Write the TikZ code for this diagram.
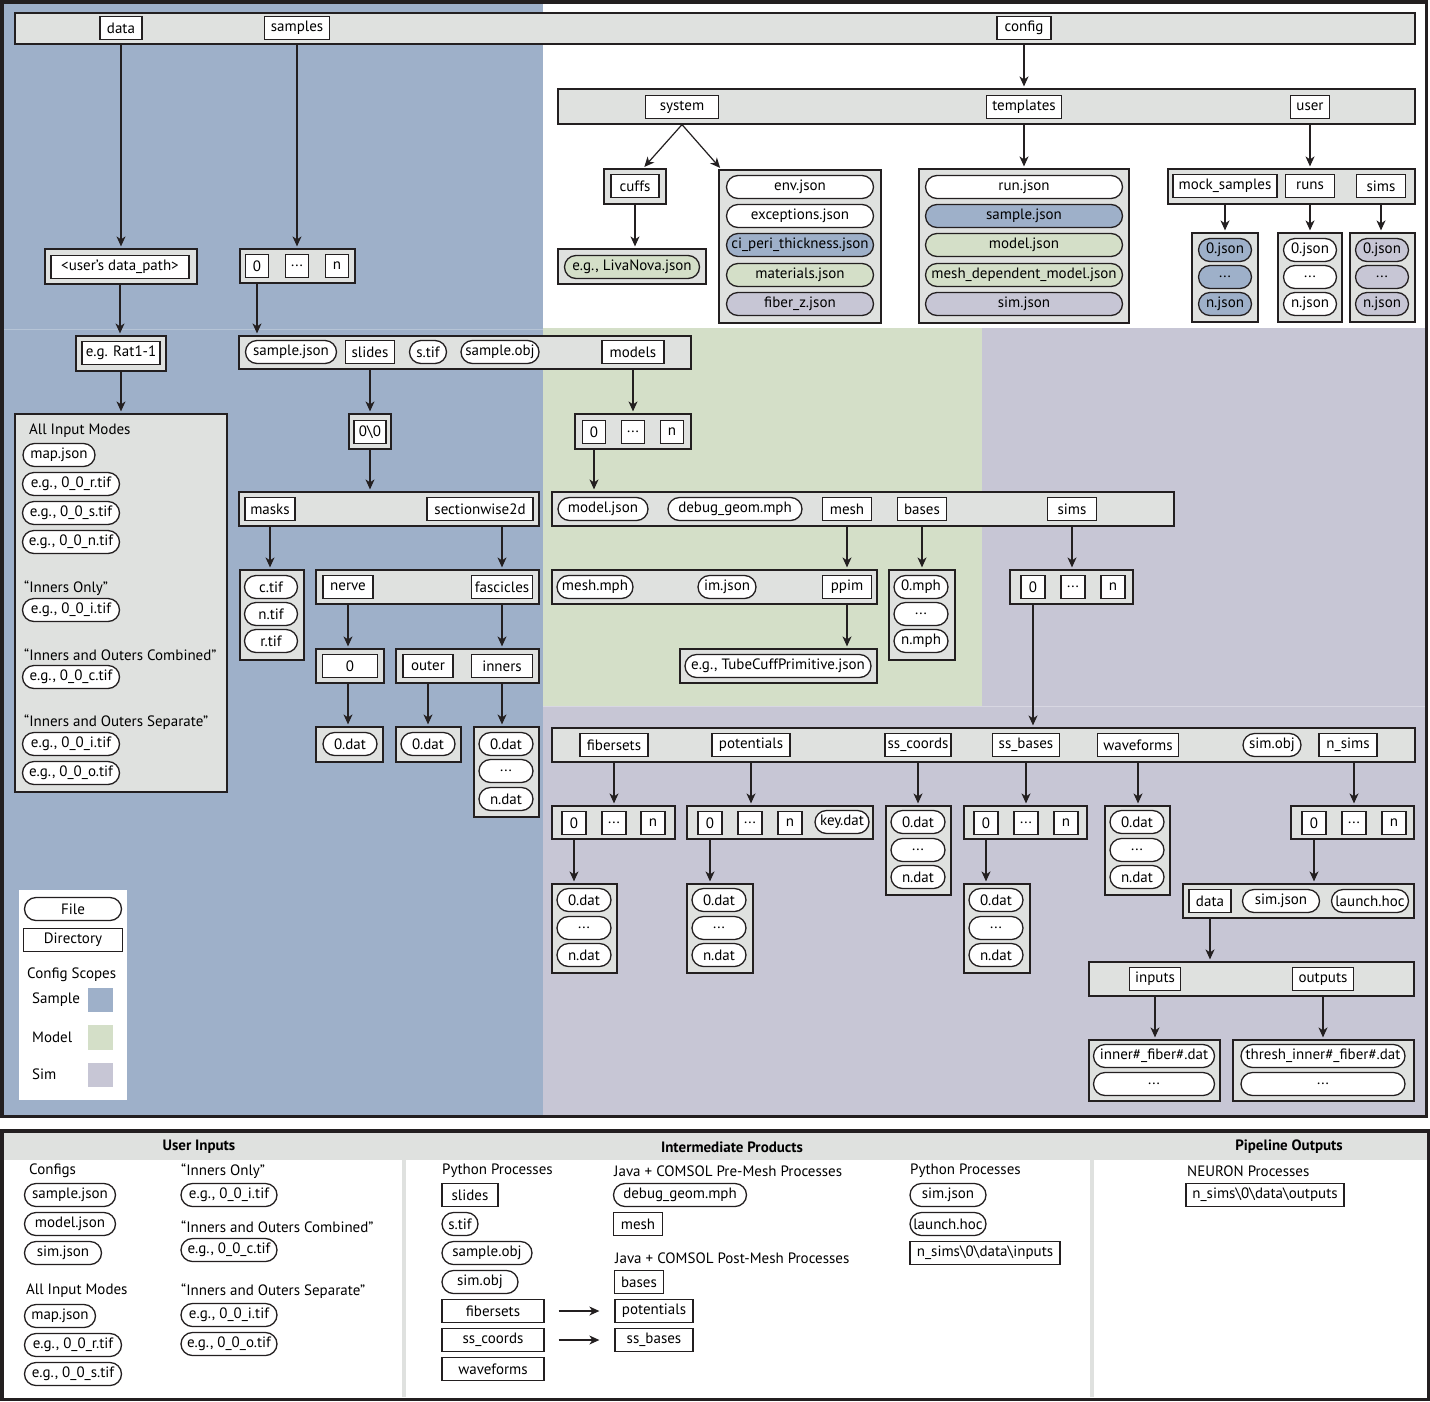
\documentclass[tikz,border=0pt]{standalone}
\usepackage{fontspec}
\setmainfont{PT Sans}
\usetikzlibrary{arrows.meta,shapes.misc,fit}
\definecolor{bluec}{HTML}{9EB0C9}
\definecolor{greenc}{HTML}{D4DFC8}
\definecolor{lavc}{HTML}{C7C6D5}
\definecolor{panelc}{HTML}{DFE1DF}
\definecolor{linec}{HTML}{231F20}
\newcommand\tx{\fontsize{15}{17}\selectfont}
\newcommand\Pp[5]{\node[panelbox, fit={(#2,#3) (#4,#5)}] (#1) {};}
\newcommand\Dd[5]{\node[dirb, minimum width=#4] (#1) at (#2,#3) {#5};}
\newcommand\Ff[6][white]{\node[fileb, fill=#1, minimum width=#5] (#2) at (#3,#4) {#6};}
\tikzset{
  panelbox/.style={draw=linec, fill=panelc, line width=1.2pt, inner sep=0pt, rectangle},
  dirb/.style={draw=linec, fill=white, line width=1.3pt, rectangle, inner sep=0pt, minimum height=23pt, font=\tx},
  fileb/.style={draw=linec, line width=1.3pt, rounded rectangle, inner sep=0pt, minimum height=23pt, font=\tx},
  arr/.style={-{Stealth[length=10pt,width=9pt,inset=3pt]}, line width=1.2pt, draw=linec, shorten >=2pt},
  lbl/.style={anchor=west, inner sep=0pt, font=\tx},
  hdr/.style={inner sep=0pt, font=\tx\bfseries},
}
\begin{document}
\begin{tikzpicture}[x=1pt,y=-1pt]
\useasboundingbox (0,0) rectangle (1430,1401);
\fill[white] (0,0) rectangle (1430,1401);
% ---------- scope backgrounds ----------
\fill[bluec] (3,3) rectangle (543,1116);
\fill[greenc] (543,328) rectangle (982,706);
\fill[lavc] (982,328) rectangle (1426,706);
\fill[lavc] (543,706) rectangle (1426,1116);
\draw[white!25!bluec, line width=0.6pt] (3,329) -- (543,329);
\draw[white!30!lavc, line width=0.6pt] (543,706) -- (1426,706);
\draw[linec, line width=3.5pt] (1.75,1.75) rectangle (1426.5,1116.5);
% ---------- top bar ----------
\Pp{topbar}{15}{13}{1415}{44}
\Dd{data}{121}{28}{42}{data}
\Dd{samples}{297}{28}{65}{samples}
\Dd{config}{1024}{28}{54}{config}
% ---------- config ----------
\Pp{cfgbar}{558}{89}{1415}{124}
\Dd{system}{682}{107}{73}{system}
\Dd{templates}{1024}{107}{75}{templates}
\Dd{user}{1310}{107}{39}{user}
\Pp{cuffsP}{604}{169}{666}{204}
\Dd{cuffs}{635}{186}{48}{cuffs}
\Pp{livaP}{558}{249}{706}{284}
\Ff[greenc]{liva}{632}{267}{135}{e.g., LivaNova.json}
\Pp{sysP}{719}{170}{881}{323}
\Ff{env}{800}{187}{147}{env.json}
\Ff{exc}{800}{216}{147}{exceptions.json}
\Ff[bluec]{ciperi}{800}{245}{147}{ci\_peri\_thickness.json}
\Ff[greenc]{mat}{800}{275}{147}{materials.json}
\Ff[lavc]{fiberz}{800}{304}{147}{fiber\_z.json}
\Pp{tmplP}{919}{169}{1129}{323}
\Ff{runj}{1024}{187}{197}{run.json}
\Ff[bluec]{tsample}{1024}{216}{197}{sample.json}
\Ff[greenc]{tmodel}{1024}{245}{197}{model.json}
\Ff[greenc]{tmesh}{1024}{275}{197}{mesh\_dependent\_model.json}
\Ff[lavc]{tsim}{1024}{304}{197}{sim.json}
\Pp{userP}{1168}{169}{1415}{204}
\Dd{mock}{1225}{186}{104}{mock\_samples}
\Dd{runs}{1310}{186}{49}{runs}
\Dd{sims}{1381}{186}{49}{sims}
\Pp{mockP}{1192}{233}{1258}{322}
\Ff[bluec]{m0}{1225}{250}{53}{0.json}
\Ff[bluec]{m1}{1225}{277}{53}{...}
\Ff[bluec]{m2}{1225}{304}{53}{n.json}
\Pp{runsP}{1278}{233}{1342}{322}
\Ff{r0}{1310}{250}{53}{0.json}
\Ff{r1}{1310}{277}{53}{...}
\Ff{r2}{1310}{304}{53}{n.json}
\Pp{simsP}{1350}{233}{1415}{322}
\Ff[lavc]{s0}{1382}{250}{53}{0.json}
\Ff[lavc]{s1}{1382}{277}{53}{...}
\Ff[lavc]{s2}{1382}{304}{53}{n.json}
% ---------- data branch ----------
\Pp{udpP}{45}{249}{197}{284}
\Dd{udp}{120}{267}{138}{<user’s data\_path>}
\Pp{ratP}{76}{336}{166}{371}
\Dd{rat}{121}{353}{78}{e.g. Rat1-1}
\Pp{modesP}{15}{414}{227}{792}
\node[lbl] (tall) at (29,431) {All Input Modes};
\Ff{map}{59}{455}{72}{map.json}
\Ff{rtifA}{71}{484}{97}{e.g., 0\_0\_r.tif}
\Ff{stifA}{71}{513}{97}{e.g., 0\_0\_s.tif}
\Ff{ntifA}{71}{542}{97}{e.g., 0\_0\_n.tif}
\node[lbl] (tio) at (24,588) {“Inners Only”};
\Ff{itifA}{71}{610}{97}{e.g., 0\_0\_i.tif}
\node[lbl] (tioc) at (24,655) {“Inners and Outers Combined”};
\Ff{ctifA}{71}{677}{97}{e.g., 0\_0\_c.tif}
\node[lbl] (tios) at (24,722) {“Inners and Outers Separate”};
\Ff{itifB}{71}{744}{97}{e.g., 0\_0\_i.tif}
\Ff{otifB}{71}{773}{97}{e.g., 0\_0\_o.tif}
% ---------- samples branch ----------
\Pp{sampNP}{240}{249}{355}{283}
\Dd{sn0}{257}{266}{23}{0}
\Dd{sn1}{297}{266}{23}{...}
\Dd{sn2}{337}{266}{23}{n}
\Pp{sampP}{239}{336}{691}{369}
\Ff{sjson}{291}{352}{91}{sample.json}
\Dd{slides}{370}{352}{49}{slides}
\Ff{stif}{428}{352}{37}{s.tif}
\Ff{sobj}{500}{352}{78}{sample.obj}
\Dd{models}{633}{352}{62}{models}
\Pp{ooP}{349}{414}{391}{449}
\Dd{oo}{370}{432}{32}{0\textbackslash 0}
\Pp{masksP}{239}{492}{539}{526}
\Dd{masks}{270}{509}{50}{masks}
\Dd{sw2d}{480}{509}{106}{sectionwise2d}
\Pp{mfP}{240}{570}{304}{660}
\Ff{ctif}{271}{587}{53}{c.tif}
\Ff{ntif}{271}{614}{53}{n.tif}
\Ff{rtif}{271}{641}{53}{r.tif}
\Pp{nfP}{316}{570}{539}{604}
\Dd{nerve}{348}{587}{50}{nerve}
\Dd{fasc}{502}{587}{61}{fascicles}
\Pp{n0P}{316}{649}{384}{683}
\Dd{nz}{350}{666}{55}{0}
\Pp{oiP}{396}{649}{539}{683}
\Dd{outer}{428}{666}{50}{outer}
\Dd{inners}{502}{666}{61}{inners}
\Pp{d1P}{316}{727}{383}{762}
\Ff{d1}{350}{744}{54}{0.dat}
\Pp{d2P}{396}{727}{461}{762}
\Ff{d2}{428}{744}{54}{0.dat}
\Pp{d3P}{474}{727}{539}{817}
\Ff{d3a}{506}{744}{54}{0.dat}
\Ff{d3b}{506}{771}{54}{...}
\Ff{d3c}{506}{799}{54}{n.dat}
% ---------- models ----------
\Pp{mnP}{575}{414}{691}{449}
\Dd{mn0}{594}{432}{23}{0}
\Dd{mn1}{633}{432}{23}{...}
\Dd{mn2}{672}{432}{23}{n}
\Pp{modelP}{552}{492}{1174}{526}
\Ff{mjson}{603}{509}{90}{model.json}
\Ff{dgeom}{735}{509}{134}{debug\_geom.mph}
\Dd{mesh}{847}{509}{49}{mesh}
\Dd{bases}{922}{509}{49}{bases}
\Dd{msims}{1072}{509}{49}{sims}
\Pp{meshP}{552}{570}{877}{604}
\Ff{meshmph}{595}{587}{76}{mesh.mph}
\Ff{imjson}{727}{587}{58}{im.json}
\Dd{ppim}{847}{587}{49}{ppim}
\Pp{tubeP}{680}{649}{877}{683}
\Ff{tube}{778}{666}{186}{e.g., TubeCuffPrimitive.json}
\Pp{basesP}{889}{570}{955}{660}
\Ff{b0}{921}{587}{54}{0.mph}
\Ff{b1}{921}{614}{54}{...}
\Ff{b2}{921}{641}{54}{n.mph}
\Pp{snP}{1010}{570}{1133}{604}
\Dd{sm0}{1033}{587}{24}{0}
\Dd{sm1}{1073}{587}{24}{...}
\Dd{sm2}{1113}{587}{24}{n}
% ---------- sims ----------
\Pp{simP}{552}{728}{1415}{762}
\Dd{fibersets}{614}{745}{68}{fibersets}
\Dd{potentials}{751}{745}{78}{potentials}
\Dd{sscoords}{918}{745}{66}{ss\_coords}
\Dd{ssbases}{1026}{745}{67}{ss\_bases}
\Dd{waveforms}{1138}{745}{81}{waveforms}
\Ff{simobj}{1272}{745}{58}{sim.obj}
\Dd{nsims}{1348}{745}{58}{n\_sims}
\Pp{fsP}{552}{806}{675}{839}
\Dd{fs0}{574}{823}{24}{0}
\Dd{fs1}{614}{823}{24}{...}
\Dd{fs2}{653}{823}{24}{n}
\Pp{fsfP}{552}{884}{617}{973}
\Ff{fsf0}{584}{900}{54}{0.dat}
\Ff{fsf1}{584}{928}{54}{...}
\Ff{fsf2}{584}{955}{54}{n.dat}
\Pp{potP}{687}{806}{873}{839}
\Dd{pt0}{710}{823}{24}{0}
\Dd{pt1}{750}{823}{24}{...}
\Dd{pt2}{790}{823}{24}{n}
\Ff{key}{842}{822}{54}{key.dat}
\Pp{potfP}{687}{884}{753}{973}
\Ff{pf0}{719}{900}{54}{0.dat}
\Ff{pf1}{719}{928}{54}{...}
\Ff{pf2}{719}{955}{54}{n.dat}
\Pp{sscP}{886}{806}{951}{895}
\Ff{sc0}{918}{822}{54}{0.dat}
\Ff{sc1}{918}{850}{54}{...}
\Ff{sc2}{918}{877}{54}{n.dat}
\Pp{ssbP}{964}{806}{1087}{839}
\Dd{sb0}{986}{823}{24}{0}
\Dd{sb1}{1026}{823}{24}{...}
\Dd{sb2}{1066}{823}{24}{n}
\Pp{ssbfP}{964}{884}{1030}{973}
\Ff{sbf0}{996}{900}{54}{0.dat}
\Ff{sbf1}{996}{928}{54}{...}
\Ff{sbf2}{996}{955}{54}{n.dat}
\Pp{wfP}{1105}{806}{1170}{895}
\Ff{wf0}{1137}{822}{54}{0.dat}
\Ff{wf1}{1137}{850}{54}{...}
\Ff{wf2}{1137}{877}{54}{n.dat}
\Pp{nsP}{1291}{806}{1414}{839}
\Dd{ns0}{1314}{823}{24}{0}
\Dd{ns1}{1354}{823}{24}{...}
\Dd{ns2}{1394}{823}{24}{n}
\Pp{dataP}{1183}{884}{1414}{918}
\Dd{ddata}{1210}{901}{42}{data}
\Ff{dsim}{1281}{901}{77}{sim.json}
\Ff{dlaunch}{1370}{901}{77}{launch.hoc}
\Pp{ioP}{1089}{962}{1414}{996}
\Dd{inputs}{1155}{979}{51}{inputs}
\Dd{outputs}{1323}{979}{61}{outputs}
\Pp{inP}{1089}{1040}{1220}{1101}
\Ff{in0}{1154}{1056}{121}{inner\#\_fiber\#.dat}
\Ff{in1}{1154}{1084}{121}{...}
\Pp{outP}{1233}{1040}{1414}{1101}
\Ff{out0}{1323}{1056}{164}{thresh\_inner\#\_fiber\#.dat}
\Ff{out1}{1323}{1084}{164}{...}
% ---------- arrows ----------
\draw[arr] (data |- topbar.south) -- (data |- udpP.north);
\draw[arr] (samples |- topbar.south) -- (samples |- sampNP.north);
\draw[arr] (config |- topbar.south) -- (config |- cfgbar.north);
\draw[arr] (system |- cfgbar.south) -- ([xshift=8pt]cuffsP.north);
\draw[arr] (system |- cfgbar.south) -- ([xshift=3pt]sysP.north west);
\draw[arr] (cuffs |- cuffsP.south) -- (cuffs |- livaP.north);
\draw[arr] (templates |- cfgbar.south) -- (templates |- tmplP.north);
\draw[arr] (user |- cfgbar.south) -- (user |- userP.north);
\draw[arr] (mock |- userP.south) -- (mock |- mockP.north);
\draw[arr] (runs |- userP.south) -- (runs |- runsP.north);
\draw[arr] (sims |- userP.south) -- (sims |- simsP.north);
\draw[arr] (udp |- udpP.south) -- (udp |- ratP.north);
\draw[arr] (rat |- ratP.south) -- (rat |- modesP.north);
\draw[arr] (sn0 |- sampNP.south) -- (sn0 |- sampP.north);
\draw[arr] (slides |- sampP.south) -- (slides |- ooP.north);
\draw[arr] (oo |- ooP.south) -- (oo |- masksP.north);
\draw[arr] (masks |- masksP.south) -- (masks |- mfP.north);
\draw[arr] (fasc |- masksP.south) -- (fasc |- nfP.north);
\draw[arr] (nerve |- nfP.south) -- (nerve |- n0P.north);
\draw[arr] (fasc |- nfP.south) -- (fasc |- oiP.north);
\draw[arr] (nerve |- n0P.south) -- (nerve |- d1P.north);
\draw[arr] (outer |- oiP.south) -- (outer |- d2P.north);
\draw[arr] (inners |- oiP.south) -- (inners |- d3P.north);
\draw[arr] (models |- sampP.south) -- (models |- mnP.north);
\draw[arr] (mn0 |- mnP.south) -- (mn0 |- modelP.north);
\draw[arr] (mesh |- modelP.south) -- (mesh |- meshP.north);
\draw[arr] (bases |- modelP.south) -- (bases |- basesP.north);
\draw[arr] (msims |- modelP.south) -- (msims |- snP.north);
\draw[arr] (ppim |- meshP.south) -- (ppim |- tubeP.north);
\draw[arr] (sm0 |- snP.south) -- (sm0 |- simP.north);
\draw[arr] (fibersets |- simP.south) -- (fibersets |- fsP.north);
\draw[arr] (potentials |- simP.south) -- (potentials |- potP.north);
\draw[arr] (sscoords |- simP.south) -- (sscoords |- sscP.north);
\draw[arr] (ssbases |- simP.south) -- (ssbases |- ssbP.north);
\draw[arr] (waveforms |- simP.south) -- (waveforms |- wfP.north);
\draw[arr] (ns1 |- simP.south) -- (ns1 |- nsP.north);
\draw[arr] (fs0 |- fsP.south) -- (fs0 |- fsfP.north);
\draw[arr] (pt0 |- potP.south) -- (pt0 |- potfP.north);
\draw[arr] (sb0 |- ssbP.south) -- (sb0 |- ssbfP.north);
\draw[arr] (ns0 |- nsP.south) -- (ns0 |- dataP.north);
\draw[arr] (ddata |- dataP.south) -- (ddata |- ioP.north);
\draw[arr] (inputs |- ioP.south) -- (inputs |- inP.north);
\draw[arr] (outputs |- ioP.south) -- (outputs |- outP.north);
% ---------- legend ----------
\node[fill=white, inner sep=0pt, fit={(19,890) (127,1100)}] (legend) {};
\Ff{lfile}{73}{909}{97}{File}
\Dd{ldir}{73}{940}{99}{Directory}
\node[lbl] (lcs) at (27,975) {Config Scopes};
\node[lbl] (lsample) at (32,1000) {Sample};
\node[lbl] (lmodel) at (32,1037) {Model};
\node[lbl] (lsim) at (32,1074) {Sim};
\fill[bluec] (88,988) rectangle (113,1012);
\fill[greenc] (88,1025) rectangle (113,1050);
\fill[lavc] (88,1063) rectangle (113,1087);
% ---------- bottom key ----------
\fill[panelc] (3,1132) rectangle (1427,1160);
\fill[panelc] (402,1160) rectangle (406,1397);
\fill[panelc] (1090,1160) rectangle (1094,1397);
\draw[linec, line width=3.5pt] (1.75,1131) rectangle (1428.25,1399.25);
\node[hdr] (h1) at (199,1147) {User Inputs};
\node[hdr] (h2) at (732,1147) {Intermediate Products};
\node[hdr] (h3) at (1289,1147) {Pipeline Outputs};
\node[lbl] (kconf) at (29,1171) {Configs};
\Ff{ksj}{70}{1195}{91}{sample.json}
\Ff{kmj}{70}{1224}{91}{model.json}
\Ff{ksimj}{63}{1253}{77}{sim.json}
\node[lbl] (kall) at (26,1291) {All Input Modes};
\Ff{kmap}{60}{1316}{71}{map.json}
\Ff{kr}{73}{1345}{97}{e.g., 0\_0\_r.tif}
\Ff{ks}{73}{1374}{97}{e.g., 0\_0\_s.tif}
\node[lbl] (kio) at (181,1171) {“Inners Only”};
\Ff{ki}{229}{1195}{96}{e.g., 0\_0\_i.tif}
\node[lbl] (kioc) at (181,1227) {“Inners and Outers Combined”};
\Ff{kc}{229}{1250}{96}{e.g., 0\_0\_c.tif}
\node[lbl] (kios) at (181,1291) {“Inners and Outers Separate”};
\Ff{ki2}{229}{1315}{96}{e.g., 0\_0\_i.tif}
\Ff{ko}{229}{1344}{96}{e.g., 0\_0\_o.tif}
\node[lbl] (kpy1) at (442,1171) {Python Processes};
\Dd{kslides}{470}{1195}{56}{slides}
\Ff{kstif}{460}{1224}{36}{s.tif}
\Ff{ksobj}{487}{1253}{90}{sample.obj}
\Ff{ksimobj}{480}{1282}{76}{sim.obj}
\Dd{kfs}{493}{1311}{102}{fibersets}
\Dd{kssc}{493}{1340}{102}{ss\_coords}
\Dd{kwf}{493}{1369}{102}{waveforms}
\node[lbl] (kjpre) at (614,1171) {Java + COMSOL Pre-Mesh Processes};
\Ff{kdg}{680}{1195}{133}{debug\_geom.mph}
\Dd{kmesh}{638}{1224}{49}{mesh}
\node[lbl] (kjpost) at (615,1258) {Java + COMSOL Post-Mesh Processes};
\Dd{kbases}{639}{1282}{49}{bases}
\Dd{kpot}{654}{1311}{78}{potentials}
\Dd{kssb}{654}{1340}{78}{ss\_bases}
\draw[arr, shorten <=14pt, shorten >=15pt] (kfs.east) -- (kpot.west);
\draw[arr, shorten <=14pt, shorten >=15pt] (kssc.east) -- (kssb.west);
\node[lbl] (kpy2) at (910,1171) {Python Processes};
\Ff{ksimj2}{948}{1195}{76}{sim.json}
\Ff{klaunch}{948}{1224}{76}{launch.hoc}
\Dd{knsin}{985}{1253}{150}{n\_sims\textbackslash 0\textbackslash data\textbackslash inputs}
\node[lbl] (kneuron) at (1187,1171) {NEURON Processes};
\Dd{knsout}{1265}{1195}{158}{n\_sims\textbackslash 0\textbackslash data\textbackslash outputs}
\end{tikzpicture}
\end{document}
